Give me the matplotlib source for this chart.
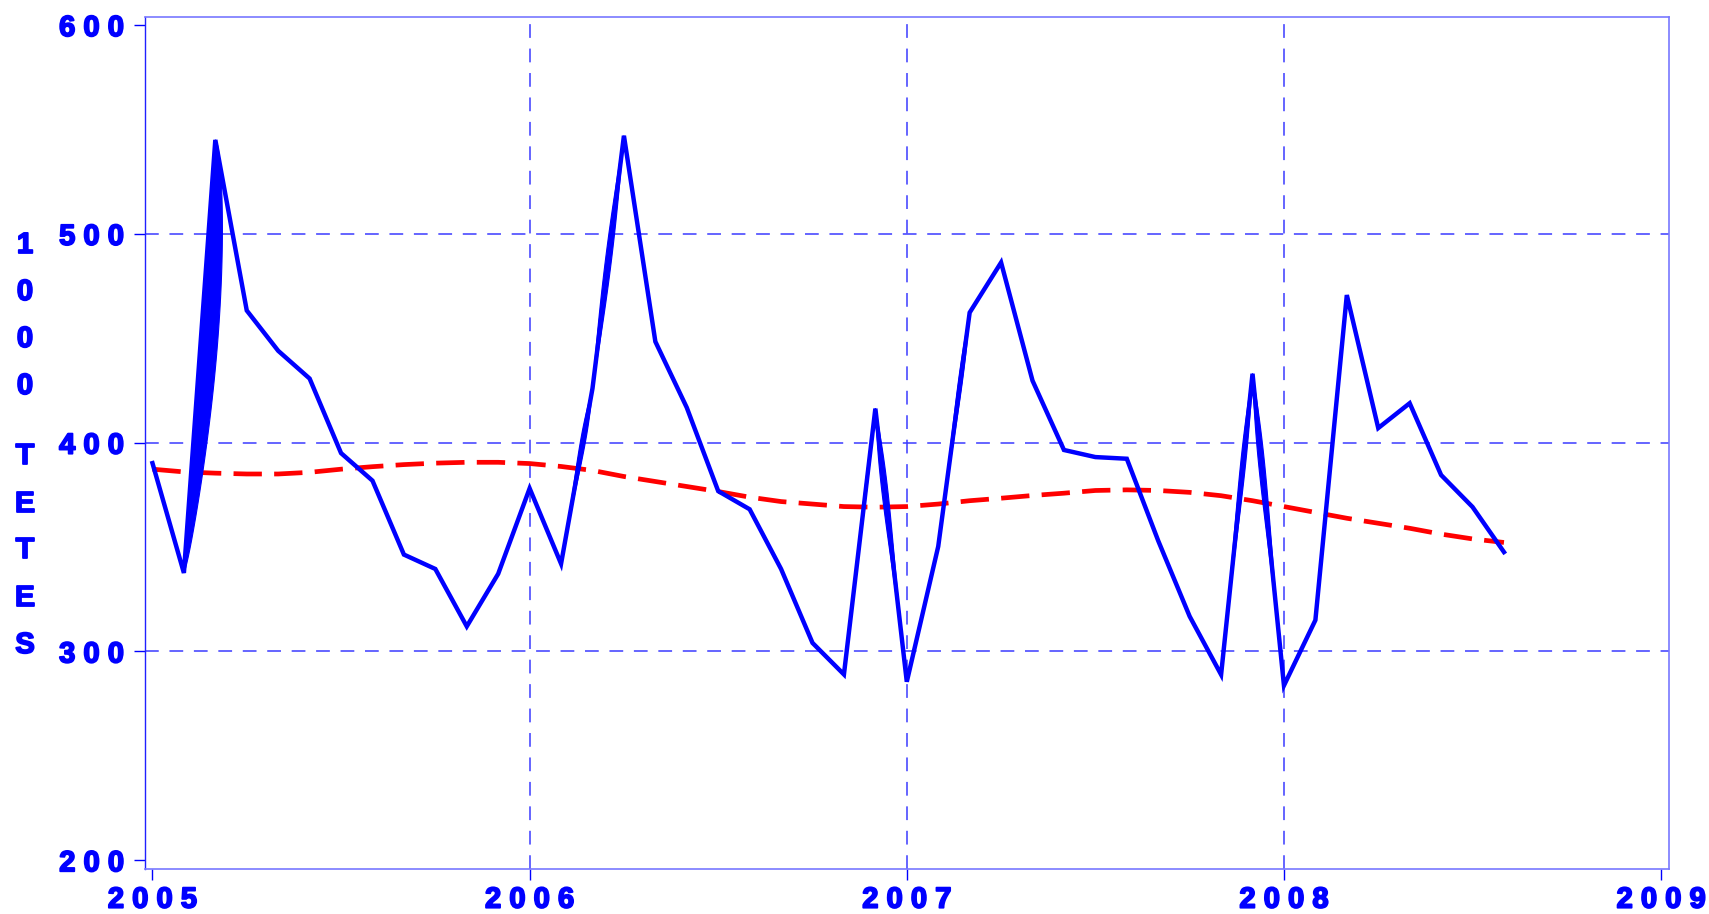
import numpy as np
import matplotlib
matplotlib.use("Agg")
import matplotlib.pyplot as plt
import matplotlib.patheffects as pe

# ---------------- data ----------------
start_year = 2005
values = [390.2, 337.6, 545.0, 463.3, 444.0, 430.7, 395.0, 381.8, 346.4, 339.5, 312.0, 337.2,
          378.1, 342.0, 426.0, 547.0, 448.4, 416.8, 376.8, 368.1, 339.5, 304.1, 289.0, 416.3,
          285.5, 350.3, 462.3, 486.3, 429.7, 396.5, 393.1, 392.3, 353.0, 316.8, 288.9, 433.0,
          283.7, 315.0, 470.7, 407.0, 418.9, 384.5, 369.2, 347.6]
trend = [387.3, 386.0, 385.4, 385.0, 385.0, 385.8, 387.3, 388.5, 389.5, 390.2, 390.6, 390.6,
         390.0, 388.6, 386.7, 383.8, 381.4, 379.0, 376.6, 373.9, 371.8, 370.6, 369.4, 369.1,
         369.4, 370.6, 372.2, 373.4, 374.7, 375.8, 377.1, 377.4, 377.1, 376.2, 374.6, 372.2,
         369.4, 366.6, 363.8, 361.4, 359.0, 356.2, 353.9, 352.2]
x_ticks = [2005, 2006, 2007, 2008, 2009]
x_labels = ["2 0 0 5", "2 0 0 6", "2 0 0 7", "2 0 0 8", "2 0 0 9"]
y_ticks = [200, 300, 400, 500, 600]
y_labels = ["2 0 0", "3 0 0", "4 0 0", "5 0 0", "6 0 0"]
ylabel_part1 = "1000"
ylabel_part2 = "TETES"

# ------------- style ----------------
BLUE = "#0000ff"
RED = "#ff0000"
FRAME = "#7878ff"
FS = 21
HEAVY = [pe.withStroke(linewidth=1.3, foreground=BLUE)]
# thickened segments (start index, width px, skew, power, side)
lens_style = [(1, 17, 1.2, 0.6, -1), (13, 5, 2.0, 1.0, 0), (14, 6, 1.0, 1.0, 0),
              (22, 2, 2.0, 1.0, 0), (23, 6, 2.0, 1.0, 0), (25, 4, 2.0, 1.0, 0),
              (34, 5, 2.0, 1.0, 0), (35, 6, 2.0, 1.0, 0)]

plt.rcParams['font.family'] = ['Liberation Sans', 'DejaVu Sans']

fig = plt.figure(figsize=(17.09, 9.14), dpi=100)
ax = fig.add_axes([0.0848, 0.0492, 0.8916, 0.9325])

months = np.arange(len(values))
x = start_year + months / 12.0
vals = np.array(values, dtype=float)

ax.set_xlim(2004.98, 2009.02)
ax.set_ylim(195.8, 604)

# grid (inner ticks only)
for yv in y_ticks[1:-1]:
    ax.axhline(yv, color="#3a3aff", lw=1.1, ls=(0, (9, 7)), zorder=1)
for xv in x_ticks[1:-1]:
    ax.axvline(xv, color="#3a3aff", lw=1.1, ls=(0, (9, 7)), zorder=1)

ax.plot(x, trend, color=RED, lw=3.4, ls=(0, (6.0, 2.6)), zorder=3)
ax.plot(x, vals, color=BLUE, lw=3.2, solid_joinstyle='miter', zorder=4)


def lens(i, w, skew, power, side):
    p0 = ax.transData.transform((x[i], vals[i]))
    p1 = ax.transData.transform((x[i + 1], vals[i + 1]))
    t = np.linspace(0, 1, 80)
    pts = p0 + np.outer(t, p1 - p0)
    d = p1 - p0
    n = np.array([-d[1], d[0]]) / np.hypot(d[0], d[1])
    s = t if vals[i + 1] > vals[i] else 1 - t
    f = np.sin(np.pi * s ** skew).clip(0) ** power
    if side == 0:
        a = pts + np.outer(f * w / 2, n)
        b = pts - np.outer(f * w / 2, n)
    else:
        a = pts
        b = pts + np.outer(f * w * side, n)
    poly = np.vstack([a, b[::-1]])
    dd = ax.transData.inverted().transform(poly)
    ax.fill(dd[:, 0], dd[:, 1], color=BLUE, lw=0.8, ec=BLUE, zorder=4)


for (i, w, sk, pw, sd) in lens_style:
    lens(i, w, sk, pw, sd)

# ticks
ax.set_xticks(x_ticks)
ax.set_xticklabels(x_labels)
ax.set_yticks(y_ticks)
ax.set_yticklabels(y_labels)
ax.tick_params(axis='both', direction='out', length=8, width=1, color=BLUE,
               labelcolor=BLUE, labelsize=FS)
ax.tick_params(axis='x', pad=4)
ax.tick_params(axis='y', pad=7)
for lab in ax.get_xticklabels() + ax.get_yticklabels():
    lab.set_fontweight('bold')
    lab.set_path_effects(HEAVY)

for sp in ['top', 'right', 'bottom']:
    ax.spines[sp].set_color(FRAME)
    ax.spines[sp].set_linewidth(1.2)
ax.spines['left'].set_color("#2020ff")
ax.spines['left'].set_linewidth(1.0)

# stacked y label
ys1 = [245, 292, 339, 386]
ys2 = [456, 504, 550, 598, 645]
for ch, yy in zip(ylabel_part1, ys1):
    fig.text(25 / 1709, 1 - yy / 914, ch, color=BLUE, fontsize=FS, fontweight='bold',
             ha='center', va='center', path_effects=HEAVY)
for ch, yy in zip(ylabel_part2, ys2):
    fig.text(25 / 1709, 1 - yy / 914, ch, color=BLUE, fontsize=FS, fontweight='bold',
             ha='center', va='center', path_effects=HEAVY)

fig.savefig("out.png", dpi=100)
